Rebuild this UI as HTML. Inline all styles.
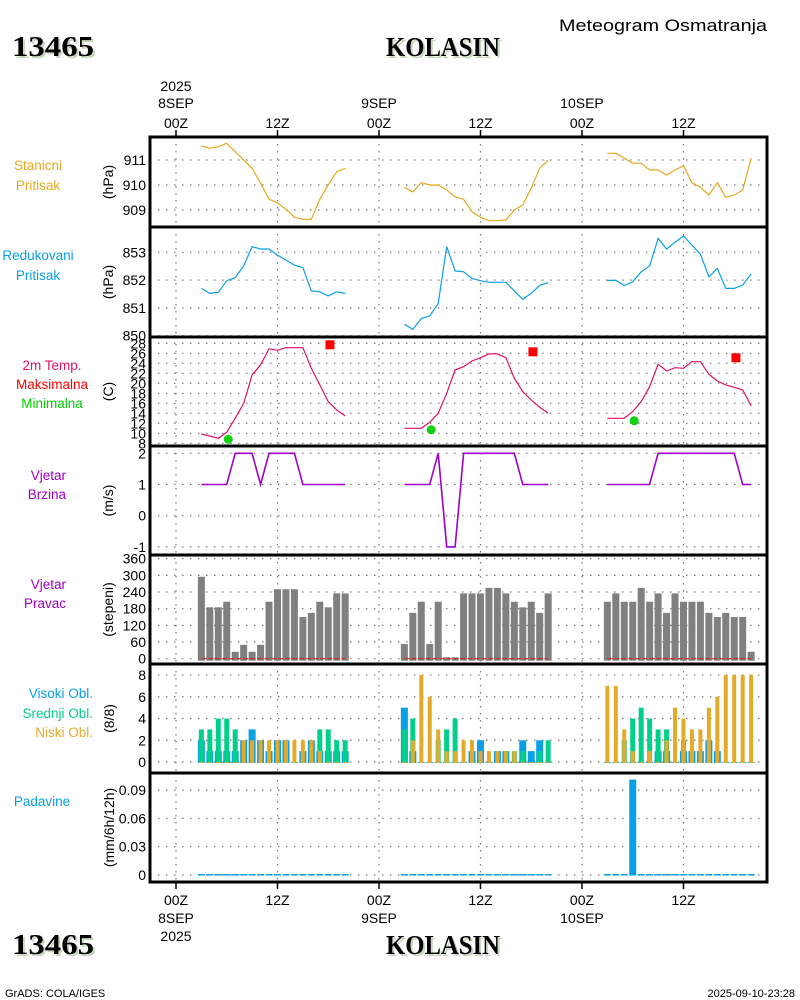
<!DOCTYPE html>
<html><head><meta charset="utf-8"><style>
body{margin:0;background:#fff;}
svg{display:block;font-family:"Liberation Sans",sans-serif;}
.tk{font-size:14px;fill:#000;}
.lb{font-size:13.5px;}
</style></head><body>
<svg id="chart" width="800" height="1000" viewBox="0 0 800 1000" xmlns="http://www.w3.org/2000/svg">
<text x="12" y="56" font-family="Liberation Serif" font-weight="bold" font-size="28" fill="#c8d8c0" transform="translate(2,2)" textLength="82" lengthAdjust="spacingAndGlyphs">13465</text>
<text x="12" y="56" font-family="Liberation Serif" font-weight="bold" font-size="28" fill="#000" textLength="82" lengthAdjust="spacingAndGlyphs">13465</text>
<text x="386" y="56" font-family="Liberation Serif" font-weight="bold" font-size="27" fill="#c8d8c0" transform="translate(2,2)" textLength="114" lengthAdjust="spacingAndGlyphs">KOLASIN</text>
<text x="386" y="56" font-family="Liberation Serif" font-weight="bold" font-size="27" fill="#000" textLength="114" lengthAdjust="spacingAndGlyphs">KOLASIN</text>
<text x="559" y="31" font-size="17" fill="#000" textLength="208" lengthAdjust="spacingAndGlyphs">Meteogram Osmatranja</text>
<text x="12" y="954" font-family="Liberation Serif" font-weight="bold" font-size="28" fill="#c8d8c0" transform="translate(2,2)" textLength="82" lengthAdjust="spacingAndGlyphs">13465</text>
<text x="12" y="954" font-family="Liberation Serif" font-weight="bold" font-size="28" fill="#000" textLength="82" lengthAdjust="spacingAndGlyphs">13465</text>
<text x="386" y="954" font-family="Liberation Serif" font-weight="bold" font-size="27" fill="#c8d8c0" transform="translate(2,2)" textLength="114" lengthAdjust="spacingAndGlyphs">KOLASIN</text>
<text x="386" y="954" font-family="Liberation Serif" font-weight="bold" font-size="27" fill="#000" textLength="114" lengthAdjust="spacingAndGlyphs">KOLASIN</text>
<text x="5" y="997" font-size="11" fill="#000">GrADS: COLA/IGES</text>
<text x="795" y="997" text-anchor="end" font-size="11" fill="#000">2025-09-10-23:28</text>
<g id="g"></g>
</svg>
<script>
// ---- data ----
const dayOffsets = [0, 24, 48];
const dayHours = [3,4,5,6,7,8,9,10,11,12,13,14,15,16,17,18,19,20];
const stPress = [911.56,911.47,911.53,911.67,911.33,911.0,910.67,910.07,909.43,909.29,909.03,908.71,908.63,908.63,909.43,910.0,910.53,910.67,
 909.91,909.72,910.09,910.0,910.0,909.8,909.53,909.43,908.93,908.71,908.57,908.57,908.6,909.0,909.2,909.87,910.67,911.0,
 911.27,911.27,911.07,910.87,910.87,910.6,910.6,910.4,910.6,910.77,910.09,909.91,909.6,910.09,909.51,909.6,909.8,911.07];
const redPress = [851.70,851.52,851.56,851.98,852.09,852.51,853.2,853.12,853.12,852.9,852.72,852.54,852.45,851.61,851.58,851.43,851.58,851.52,
 850.41,850.23,850.62,850.71,851.16,853.2,852.33,852.3,852.06,851.98,851.92,851.92,851.92,851.61,851.31,851.52,851.81,851.91,
 851.99,851.99,851.81,851.94,852.3,852.51,853.5,853.12,853.36,853.59,853.26,852.93,852.12,852.42,851.70,851.70,851.82,852.22];
const temp2m = [9.87,9.47,9.0,10.2,13.0,16.0,21.67,23.67,26.87,26.6,27.13,27.13,27.13,23.0,19.67,16.33,14.67,13.47,
 11.0,11.0,11.0,12.2,14.0,18.0,22.67,23.33,24.47,25.13,25.87,25.87,25.13,21.0,18.33,16.67,15.2,14.0,
 13.0,13.0,13.0,14.33,16.33,19.33,23.8,22.47,23.13,23.0,24.33,24.33,21.8,20.47,19.67,19.2,18.67,15.47];
const maxHours = [18, 42, 66];
const maxTemp = [27.7, 26.3, 25.1];
const minHours = [6, 30, 54];
const minTemp = [8.8, 10.7, 12.5];
const windSpeed = [1,1,1,1,2,2,2,1,2,2,2,2,1,1,1,1,1,1,
 1,1,1,1,2,-1,-1,2,2,2,2,2,2,2,1,1,1,1,
 1,1,1,1,1,1,2,2,2,2,2,2,2,2,2,2,1,1];
const windDir = [295,185,185,205,25,50,25,50,205,250,250,250,150,165,205,185,235,235,
 53,165,205,53,205,5,5,235,235,235,255,255,235,205,185,205,165,235,
 205,235,205,205,255,205,235,165,235,205,205,205,165,150,165,150,150,25];
const cloudHigh = [2,1,1,1,1,2,3,2,1,2,2,0,1,2,1,1,1,1,
 5,1,0,0,0,0,0,0,1,2,0,1,1,0,2,1,2,0,
 0,0,0,0,0,0,1,1,0,1,1,1,2,1,0,0,0,0];
const cloudMid = [3,3,4,4,3,0,0,0,0,0,0,0,0,0,3,3,2,2,
 3,4,0,0,2,3,4,0,0,0,0,1,1,1,1,0,1,2,
 0,0,2,4,5,4,3,3,0,2,0,0,0,0,0,0,0,0];
const cloudLow = [0,0,0,0,0,2,2,2,2,2,2,2,2,2,1,0,0,0,
 0,2,8,6,3,1,1,2,2,1,1,1,1,1,0,0,0,0,
 7,7,3,1,0,1,0,2,5,4,3,3,5,6,8,8,8,8];
const precip = [0,0,0,0,0,0,0,0,0,0,0,0,0,0,0,0,0,0,
 0,0,0,0,0,0,0,0,0,0,0,0,0,0,0,0,0,0,
 0,0,0,0.1,0,0,0,0,0,0,0,0,0,0,0,0,0,0];
const timeTicks = [0,12,24,36,48,60];
const timeLabels = ["00Z","12Z","00Z","12Z","00Z","12Z"];
const dayLabels = {0:"8SEP",24:"9SEP",48:"10SEP"};
const yTicks1 = [909,910,911];
const yTicks2 = [850,851,852,853];
const yTicks3 = [8,10,12,14,16,18,20,22,24,26,28];
const yTicks4 = [-1,0,1,2];
const yTicks5 = [0,60,120,180,240,300,360];
const yTicks6 = [0,2,4,6,8];
const yTicks7 = [0,0.03,0.06,0.09];
const yLabels7 = ["0","0.03","0.06","0.09"];

// ---- scales ----
const X0 = 150, X1 = 767;
const xT = h => 176 + h * 8.458;
const y1 = v => 160 - (v - 911) * 25;
const y2 = v => 252.3 - (v - 853) * 27.8;
const y3 = v => 343.3 + (28 - v) * 5;
const y4 = v => 453.3 + (2 - v) * 31.2;
const y5 = v => 658.7 - v * 16.67 / 60;
const y6 = v => 762 - v * 10.87;
const y7 = v => 875 - v / 0.03 * 28.33;
const hours = [];
dayOffsets.forEach(o => dayHours.forEach(h => hours.push(o + h)));

const NS = "http://www.w3.org/2000/svg";
const G = document.getElementById("g");
function mk(tag, attrs, parent) {
  const e = document.createElementNS(NS, tag);
  for (const k in attrs) e.setAttribute(k, attrs[k]);
  (parent || G).appendChild(e);
  return e;
}
function txt(x, y, s, attrs) {
  const t = mk("text", Object.assign({x: x, y: y}, attrs || {}));
  t.textContent = s;
  return t;
}

const panels = [
  {top:137,bot:227,ys:y1,ticks:yTicks1,unit:"(hPa)",name:"station-pressure"},
  {top:227,bot:337,ys:y2,ticks:yTicks2,unit:"(hPa)",name:"reduced-pressure"},
  {top:337,bot:446,ys:y3,ticks:yTicks3,unit:"(C)",name:"temperature"},
  {top:446,bot:555,ys:y4,ticks:yTicks4,unit:"(m/s)",name:"wind-speed"},
  {top:555,bot:664,ys:y5,ticks:yTicks5,unit:"(stepeni)",name:"wind-direction"},
  {top:664,bot:773,ys:y6,ticks:yTicks6,unit:"(8/8)",name:"clouds"},
  {top:773,bot:882,ys:y7,ticks:yTicks7,unit:"(mm/6h/12h)",name:"precipitation",labels:yLabels7}
];
panels.forEach(p => {
  const pg = mk("g", {});
  
  
  timeTicks.forEach(h => {
    const l = mk("line", {x1:xT(h),x2:xT(h),y1:p.top,y2:p.bot,stroke:"#777","stroke-dasharray":"1.5,5.5","stroke-width":1.2}, pg);
    
    
  });
  p.ticks.forEach((v, i) => {
    const y = p.ys(v);
    if (y > p.top + 1 && y < p.bot - 1) {
      const l = mk("line", {x1:X0,x2:X1,y1:y,y2:y,stroke:"#777","stroke-dasharray":"1.5,6.5","stroke-width":1.2}, pg);
      
      
    }
    const t = txt(146, y + 5, p.labels ? p.labels[i] : String(v), {"text-anchor":"end",class:"tk","font-size": p.ticks.length > 8 ? 11 : 14}, pg);
    
    
  });
  const cy = (p.top + p.bot) / 2;
  const u = txt(0, 0, p.unit, {"text-anchor":"middle",class:"tk",transform:`translate(${p.name==="precipitation"||p.name==="clouds"?114:113},${cy}) rotate(-90)`}, pg);
  
  
  const r = mk("rect", {x:X0,y:p.top,width:X1-X0,height:p.bot-p.top,fill:"none",stroke:"#000","stroke-width":3}, pg);
  
  
});

// time axis labels
timeTicks.forEach((h, i) => {
  const x = xT(h);
  mk("line", {x1:x,x2:x,y1:130,y2:137,stroke:"#000","stroke-width":1.5});
  mk("line", {x1:x,x2:x,y1:882,y2:889,stroke:"#000","stroke-width":1.5});
  const t1 = txt(x, 128, timeLabels[i], {"text-anchor":"middle",class:"tk","font-size":16});
  
  
  const t2 = txt(x, 905, timeLabels[i], {"text-anchor":"middle",class:"tk","font-size":16});
  
  
  if (dayLabels[h]) {
    txt(x, 108, dayLabels[h], {"text-anchor":"middle",class:"tk","font-size":16});
    txt(x, 923, dayLabels[h], {"text-anchor":"middle",class:"tk","font-size":16});
  }
});
txt(xT(0), 91, "2025", {"text-anchor":"middle",class:"tk","font-size":16});
txt(xT(0), 941, "2025", {"text-anchor":"middle",class:"tk","font-size":16});

// left labels
function lab(x, y, s, c, anchor, name) {
  const t = txt(x, y, s, {"text-anchor":anchor||"middle",class:"lb",fill:c});
  
  
}
lab(38, 170, "Stanicni", "#e8a820", "middle", "label-stanicni");
lab(38, 190, "Pritisak", "#e8a820", "middle", "label-pritisak");
lab(38, 260, "Redukovani", "#0aa0e6", "middle", "label-redukovani");
lab(38, 280, "Pritisak", "#0aa0e6", "middle", "label-pritisak-2");
lab(52, 370, "2m Temp.", "#e0106a", "middle", "label-temp");
lab(52, 389, "Maksimalna", "#ff0000", "middle", "label-max");
lab(52, 408, "Minimalna", "#00d000", "middle", "label-min");
lab(66, 480, "Vjetar", "#a000c8", "end", "label-vjetar");
lab(66, 499, "Brzina", "#a000c8", "end", "label-brzina");
lab(66, 589, "Vjetar", "#a000c8", "end", "label-vjetar-2");
lab(66, 608, "Pravac", "#a000c8", "end", "label-pravac");
lab(93, 698, "Visoki Obl.", "#0aa0e6", "end", "label-visoki");
lab(93, 718, "Srednji Obl.", "#00d08a", "end", "label-srednji");
lab(93, 737, "Niski Obl.", "#e6aa2a", "end", "label-niski");
lab(42, 806, "Padavine", "#0aa0e6", "middle", "label-padavine");

// line series per day
function lines(vals, ys, color, name, w) {
  dayOffsets.forEach((o, d) => {
    const pts = dayHours.map((h, i) => xT(o + h).toFixed(1) + "," + ys(vals[d * dayHours.length + i]).toFixed(1)).join(" ");
    const pl = mk("polyline", {points:pts,fill:"none",stroke:color,"stroke-width":w||1.2});
    
    
  });
}
lines(stPress, y1, "#e8a820", "station-pressure-line");
lines(redPress, y2, "#0aa0e6", "reduced-pressure-line");
lines(temp2m, y3, "#e0106a", "temperature-line");
lines(windSpeed, y4, "#a000c8", "wind-speed-line", 1.6);

maxTemp.forEach((v, i) => {
  const r = mk("rect", {x:xT(maxHours[i]) - 4.5 + 1.7,y:y3(v) - 4.5,width:9,height:9,fill:"#f00"});
  
  
});
minTemp.forEach((v, i) => {
  const c = mk("circle", {cx:xT(minHours[i]) + 1.5,cy:y3(v),r:4.5,fill:"#10d010"});
  
  
});

// wind dir bars
hours.forEach((h, i) => {
  const v = windDir[i];
  const r = mk("rect", {x:xT(h) - 3.5,y:y5(v),width:7,height:y5(0) - y5(v) + 2,fill:"#808080"});
  
  
});
dayOffsets.forEach(o => {
  mk("line", {x1:xT(o + 3),x2:xT(o + 20),y1:y5(0),y2:y5(0),stroke:"#d02020","stroke-width":1.2,"stroke-dasharray":"5,2"});
});

// clouds
hours.forEach((h, i) => {
  const x = xT(h);
  const b = mk("rect", {x:x - 3.5,y:y6(cloudHigh[i]),width:7,height:y6(0) - y6(cloudHigh[i]) + 1,fill:"#0aa0e6"});
  
  
  const g = mk("rect", {x:x - 2.5,y:y6(cloudMid[i]),width:5,height:y6(0) - y6(cloudMid[i]) + 1,fill:"#00d08a"});
  
  
  const o = mk("rect", {x:x - 2,y:y6(cloudLow[i]),width:4,height:y6(0) - y6(cloudLow[i]) + 1,fill:"#e6aa2a"});
  
  
});

// precip
hours.forEach((h, i) => {
  const v = precip[i];
  const r = mk("rect", {x:xT(h) - 3.5,y:y7(v) - 1,width:7,height:y7(0) - y7(v) + 1.5,fill:"#0aa0e6"});
  
  
});
</script>
</body></html>
